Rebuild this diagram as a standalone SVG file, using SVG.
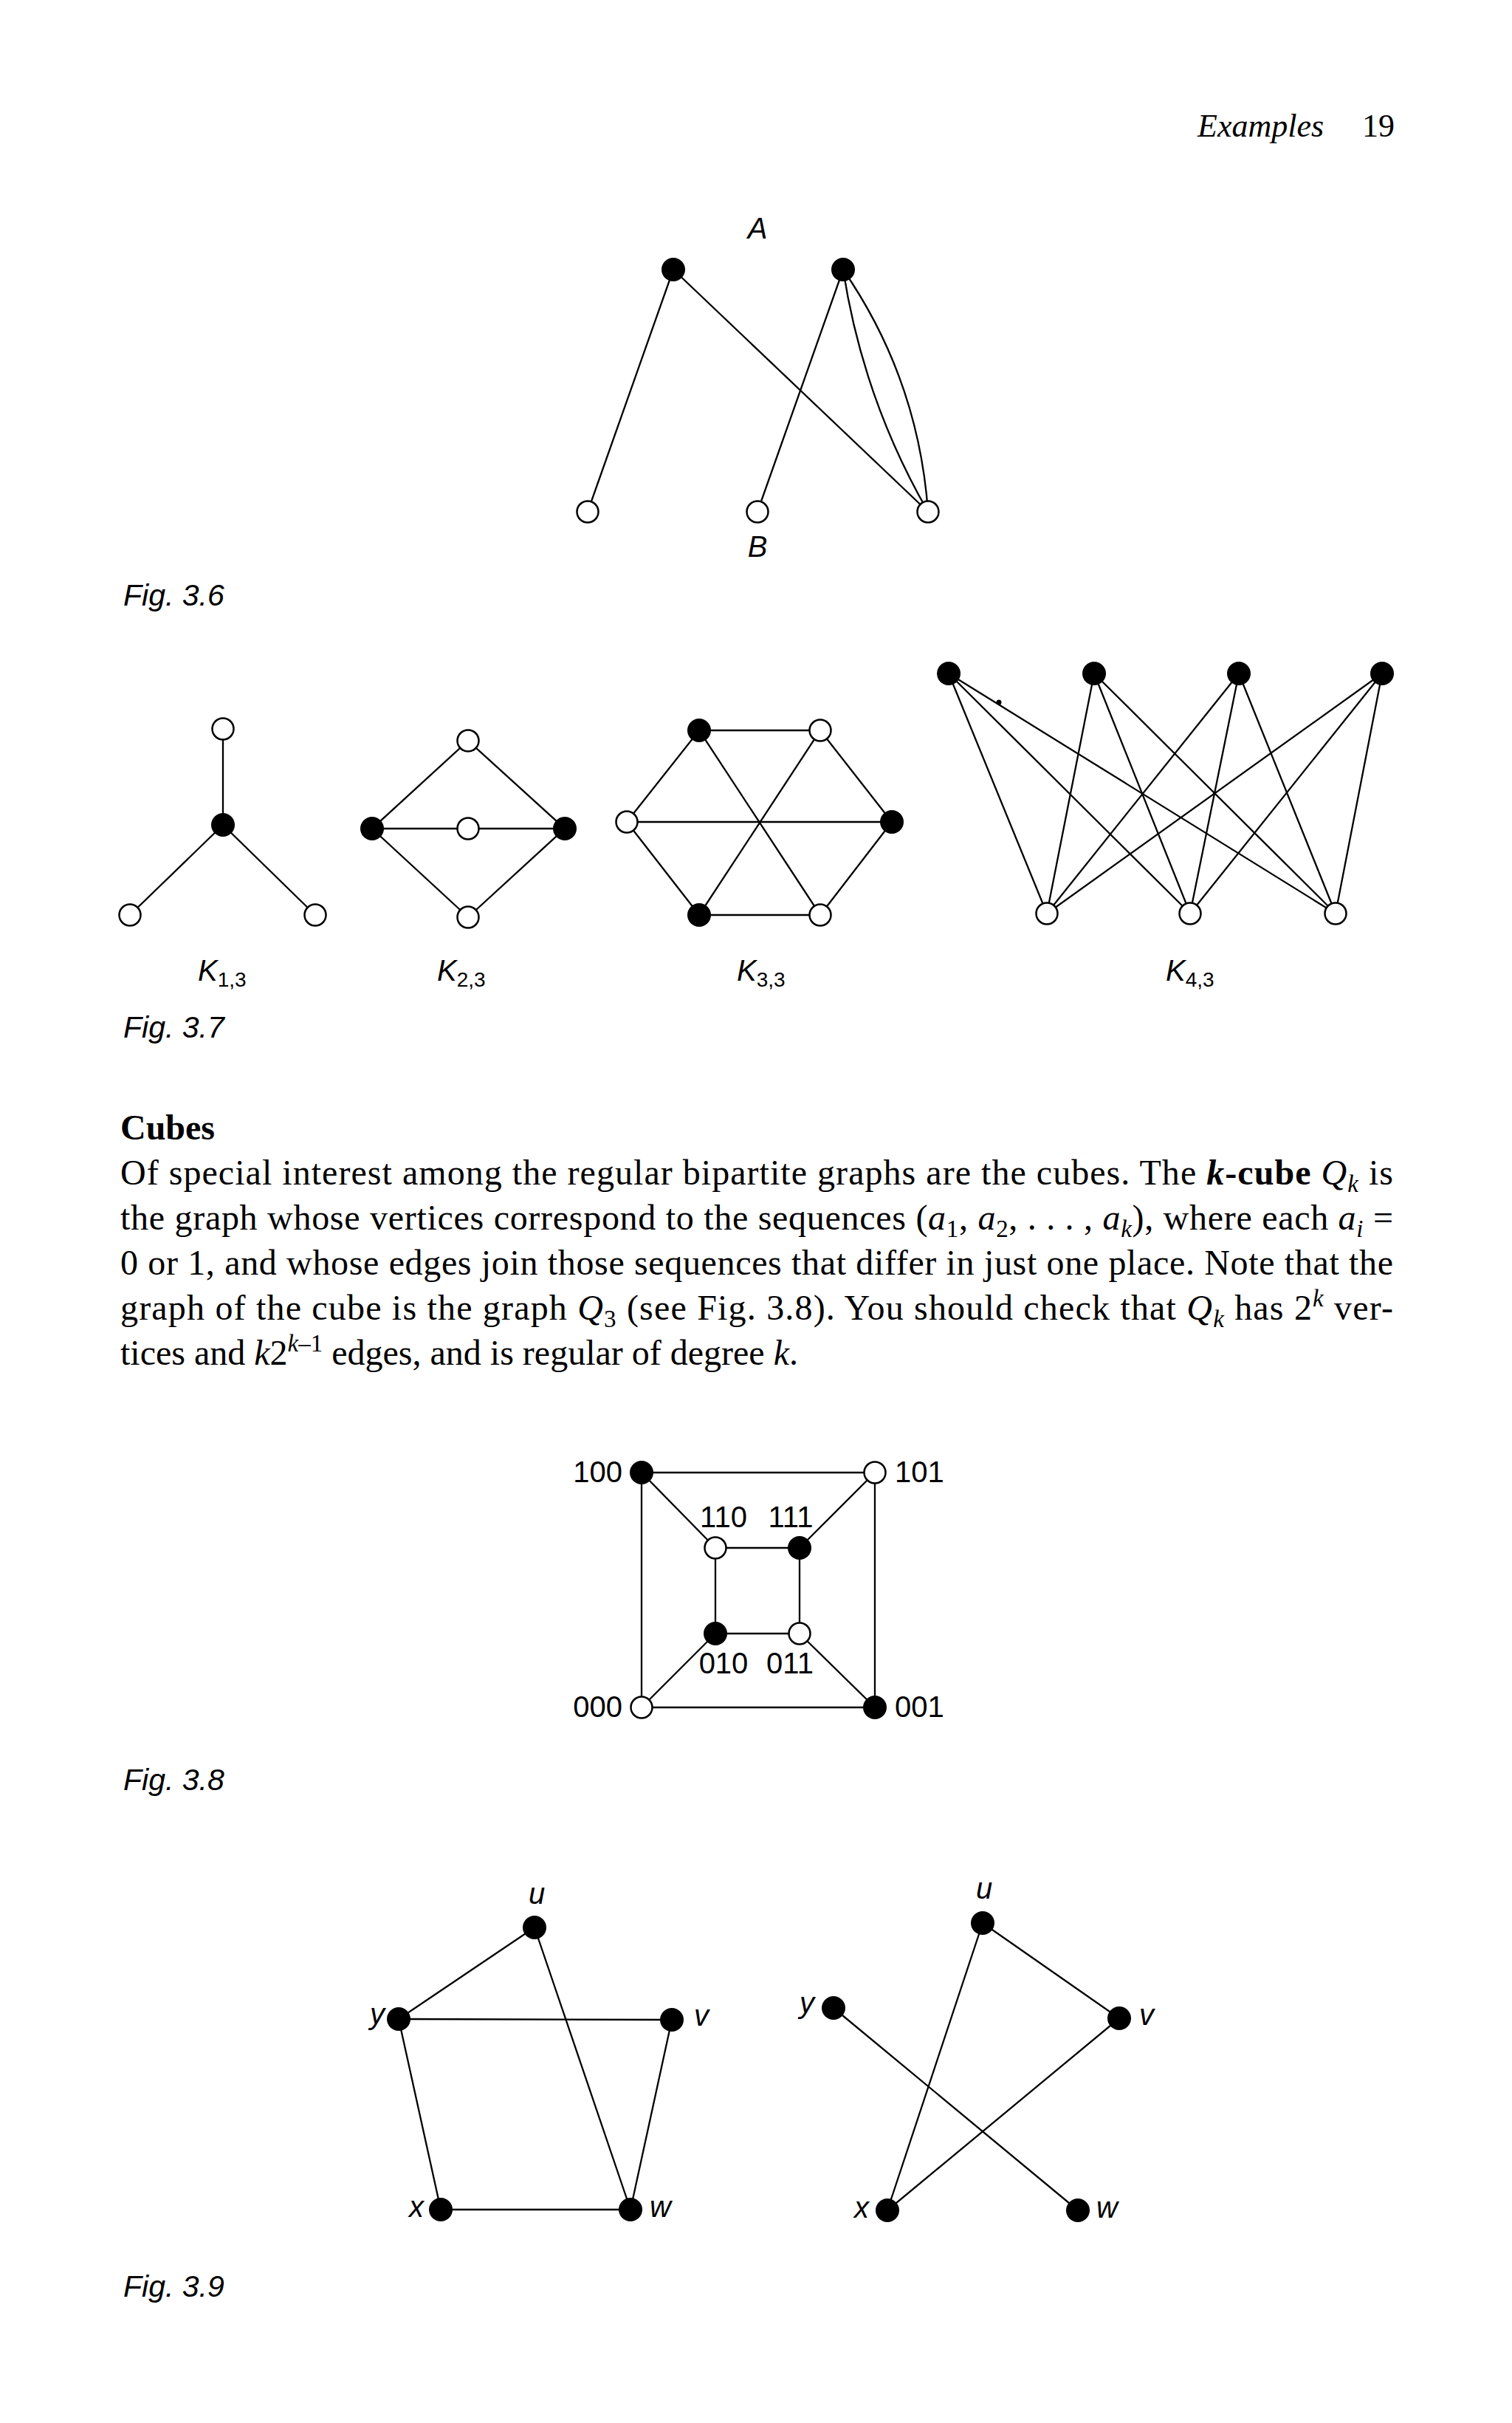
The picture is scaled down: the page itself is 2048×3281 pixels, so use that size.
<svg xmlns="http://www.w3.org/2000/svg" width="2048" height="3281" viewBox="0 0 2048 3281">
<style>
.e{stroke:#000;stroke-width:2.3;fill:none;stroke-linecap:round}
.b{fill:#000}
.w{fill:#fff;stroke:#000;stroke-width:2.5}
.cap{font-family:"Liberation Sans",Arial,sans-serif;font-style:italic;font-size:41px}
.lab{font-family:"Liberation Sans",Arial,sans-serif;font-size:40px}
.il{font-family:"Liberation Sans",Arial,sans-serif;font-style:italic;font-size:40px}
.kl{font-family:"Liberation Sans",Arial,sans-serif;font-size:40px}
.body{font-family:"Liberation Serif","Times New Roman",serif;font-size:48px}
.hd{font-family:"Liberation Serif","Times New Roman",serif;font-size:44px}
.i{font-style:italic}
.sm{font-size:33px}
</style>
<rect width="2048" height="3281" fill="#fff"/>

<!-- header -->
<text class="hd i" x="1622" y="185">Examples</text>
<text class="hd" x="1845" y="185">19</text>

<!-- connectors -->
<g id="connectors">
  <!-- Fig 3.6 -->
  <line class="e" x1="912" y1="365" x2="796" y2="693"/>
  <line class="e" x1="912" y1="365" x2="1257" y2="693"/>
  <line class="e" x1="1142" y1="365" x2="1026" y2="693"/>
  <path class="e" d="M1142,365 Q1169,540 1257,693"/>
  <path class="e" d="M1142,365 Q1244,513 1257,693"/>
  <!-- K1,3 -->
  <line class="e" x1="302" y1="1117" x2="302" y2="987"/>
  <line class="e" x1="302" y1="1117" x2="176" y2="1239"/>
  <line class="e" x1="302" y1="1117" x2="427" y2="1239"/>
  <!-- K2,3 -->
  <line class="e" x1="504" y1="1122" x2="634" y2="1003"/>
  <line class="e" x1="504" y1="1122" x2="634" y2="1122"/>
  <line class="e" x1="504" y1="1122" x2="634" y2="1242"/>
  <line class="e" x1="765" y1="1122" x2="634" y2="1003"/>
  <line class="e" x1="765" y1="1122" x2="634" y2="1122"/>
  <line class="e" x1="765" y1="1122" x2="634" y2="1242"/>
  <!-- K3,3 -->
  <line class="e" x1="947" y1="989" x2="1111" y2="989"/>
  <line class="e" x1="1111" y1="989" x2="1208" y2="1113"/>
  <line class="e" x1="1208" y1="1113" x2="1111" y2="1239"/>
  <line class="e" x1="1111" y1="1239" x2="947" y2="1239"/>
  <line class="e" x1="947" y1="1239" x2="849" y2="1113"/>
  <line class="e" x1="849" y1="1113" x2="947" y2="989"/>
  <line class="e" x1="947" y1="989" x2="1111" y2="1239"/>
  <line class="e" x1="1111" y1="989" x2="947" y2="1239"/>
  <line class="e" x1="849" y1="1113" x2="1208" y2="1113"/>
  <!-- K4,3 -->
  <line class="e" x1="1285" y1="912" x2="1418" y2="1237"/>
  <line class="e" x1="1285" y1="912" x2="1612" y2="1237"/>
  <line class="e" x1="1285" y1="912" x2="1809" y2="1237"/>
  <line class="e" x1="1482" y1="912" x2="1418" y2="1237"/>
  <line class="e" x1="1482" y1="912" x2="1612" y2="1237"/>
  <line class="e" x1="1482" y1="912" x2="1809" y2="1237"/>
  <line class="e" x1="1678" y1="912" x2="1418" y2="1237"/>
  <line class="e" x1="1678" y1="912" x2="1612" y2="1237"/>
  <line class="e" x1="1678" y1="912" x2="1809" y2="1237"/>
  <line class="e" x1="1872" y1="912" x2="1418" y2="1237"/>
  <line class="e" x1="1872" y1="912" x2="1612" y2="1237"/>
  <line class="e" x1="1872" y1="912" x2="1809" y2="1237"/>
  <circle cx="1353" cy="951" r="3.5" fill="#000"/>
  <!-- Fig 3.8 cube -->
  <line class="e" x1="869" y1="1994" x2="1185" y2="1994"/>
  <line class="e" x1="1185" y1="1994" x2="1185" y2="2312"/>
  <line class="e" x1="1185" y1="2312" x2="869" y2="2312"/>
  <line class="e" x1="869" y1="2312" x2="869" y2="1994"/>
  <line class="e" x1="969" y1="2096" x2="1083" y2="2096"/>
  <line class="e" x1="1083" y1="2096" x2="1083" y2="2212"/>
  <line class="e" x1="1083" y1="2212" x2="969" y2="2212"/>
  <line class="e" x1="969" y1="2212" x2="969" y2="2096"/>
  <line class="e" x1="869" y1="1994" x2="969" y2="2096"/>
  <line class="e" x1="1185" y1="1994" x2="1083" y2="2096"/>
  <line class="e" x1="1185" y1="2312" x2="1083" y2="2212"/>
  <line class="e" x1="869" y1="2312" x2="969" y2="2212"/>
  <!-- Fig 3.9 left -->
  <line class="e" x1="724" y1="2610" x2="540" y2="2734"/>
  <line class="e" x1="724" y1="2610" x2="854" y2="2992"/>
  <line class="e" x1="540" y1="2734" x2="910" y2="2735"/>
  <line class="e" x1="540" y1="2734" x2="597" y2="2992"/>
  <line class="e" x1="597" y1="2992" x2="854" y2="2992"/>
  <line class="e" x1="910" y1="2735" x2="854" y2="2992"/>
  <!-- Fig 3.9 right -->
  <line class="e" x1="1331" y1="2604" x2="1202" y2="2993"/>
  <line class="e" x1="1331" y1="2604" x2="1516" y2="2733"/>
  <line class="e" x1="1516" y1="2733" x2="1202" y2="2993"/>
  <line class="e" x1="1129" y1="2719" x2="1460" y2="2993"/>
</g>

<!-- Fig 3.6 nodes -->
<g id="f36-a1"><circle class="b" cx="912" cy="365" r="16"/></g>
<g id="f36-a2"><circle class="b" cx="1142" cy="365" r="16"/></g>
<g id="f36-b1"><circle class="w" cx="796" cy="693" r="14.5"/></g>
<g id="f36-b2"><circle class="w" cx="1026" cy="693" r="14.5"/></g>
<g id="f36-b3"><circle class="w" cx="1257" cy="693" r="14.5"/></g>
<text class="il" x="1026" y="323" text-anchor="middle">A</text>
<text class="il" x="1026" y="754" text-anchor="middle">B</text>
<text class="cap" x="167" y="820">Fig. 3.6</text>

<!-- Fig 3.7 K1,3 -->
<g id="k13-c"><circle class="b" cx="302" cy="1117" r="16"/></g>
<g id="k13-t"><circle class="w" cx="302" cy="987" r="14.5"/></g>
<g id="k13-l"><circle class="w" cx="176" cy="1239" r="14.5"/></g>
<g id="k13-r"><circle class="w" cx="427" cy="1239" r="14.5"/></g>
<!-- K2,3 -->
<g id="k23-l"><circle class="b" cx="504" cy="1122" r="16"/></g>
<g id="k23-r"><circle class="b" cx="765" cy="1122" r="16"/></g>
<g id="k23-t"><circle class="w" cx="634" cy="1003" r="14.5"/></g>
<g id="k23-m"><circle class="w" cx="634" cy="1122" r="14.5"/></g>
<g id="k23-b"><circle class="w" cx="634" cy="1242" r="14.5"/></g>
<!-- K3,3 -->
<g id="k33-tl"><circle class="b" cx="947" cy="989" r="16"/></g>
<g id="k33-tr"><circle class="w" cx="1111" cy="989" r="14.5"/></g>
<g id="k33-l"><circle class="w" cx="849" cy="1113" r="14.5"/></g>
<g id="k33-r"><circle class="b" cx="1208" cy="1113" r="16"/></g>
<g id="k33-bl"><circle class="b" cx="947" cy="1239" r="16"/></g>
<g id="k33-br"><circle class="w" cx="1111" cy="1239" r="14.5"/></g>
<!-- K4,3 -->
<g id="k43-b1"><circle class="b" cx="1285" cy="912" r="16"/></g>
<g id="k43-b2"><circle class="b" cx="1482" cy="912" r="16"/></g>
<g id="k43-b3"><circle class="b" cx="1678" cy="912" r="16"/></g>
<g id="k43-b4"><circle class="b" cx="1872" cy="912" r="16"/></g>
<g id="k43-w1"><circle class="w" cx="1418" cy="1237" r="14.5"/></g>
<g id="k43-w2"><circle class="w" cx="1612" cy="1237" r="14.5"/></g>
<g id="k43-w3"><circle class="w" cx="1809" cy="1237" r="14.5"/></g>

<text class="kl" x="268" y="1328"><tspan class="i">K</tspan><tspan font-size="28" dy="8">1,3</tspan></text>
<text class="kl" x="592" y="1328"><tspan class="i">K</tspan><tspan font-size="28" dy="8">2,3</tspan></text>
<text class="kl" x="998" y="1328"><tspan class="i">K</tspan><tspan font-size="28" dy="8">3,3</tspan></text>
<text class="kl" x="1579" y="1328"><tspan class="i">K</tspan><tspan font-size="28" dy="8">4,3</tspan></text>
<text class="cap" x="167" y="1405">Fig. 3.7</text>

<!-- Cubes text -->
<text class="body" x="163" y="1543" font-weight="bold">Cubes</text>
<text class="body" x="163" y="1604" textLength="1724" lengthAdjust="spacing">Of special interest among the regular bipartite graphs are the cubes. The <tspan font-weight="bold" font-style="italic">k</tspan><tspan font-weight="bold">-cube</tspan> <tspan class="i">Q</tspan><tspan class="i sm" dy="10">k</tspan><tspan dy="-10"> is</tspan></text>
<text class="body" x="163" y="1665" textLength="1724" lengthAdjust="spacing">the graph whose vertices correspond to the sequences (<tspan class="i">a</tspan><tspan class="sm" dy="10">1</tspan><tspan dy="-10">, </tspan><tspan class="i">a</tspan><tspan class="sm" dy="10">2</tspan><tspan dy="-10">, . . . , </tspan><tspan class="i">a</tspan><tspan class="i sm" dy="10">k</tspan><tspan dy="-10">), where each </tspan><tspan class="i">a</tspan><tspan class="i sm" dy="10">i</tspan><tspan dy="-10"> =</tspan></text>
<text class="body" x="163" y="1726" textLength="1724" lengthAdjust="spacing">0 or 1, and whose edges join those sequences that differ in just one place. Note that the</text>
<text class="body" x="163" y="1787" textLength="1724" lengthAdjust="spacing">graph of the cube is the graph <tspan class="i">Q</tspan><tspan class="sm" dy="10">3</tspan><tspan dy="-10"> (see Fig. 3.8). You should check that </tspan><tspan class="i">Q</tspan><tspan class="i sm" dy="10">k</tspan><tspan dy="-10"> has 2</tspan><tspan class="i sm" dy="-18">k</tspan><tspan dy="18"> ver-</tspan></text>
<text class="body" x="163" y="1848">tices and <tspan class="i">k</tspan>2<tspan class="sm" dy="-18"><tspan class="i">k</tspan>–1</tspan><tspan dy="18"> edges, and is regular of degree </tspan><tspan class="i">k</tspan>.</text>

<!-- Fig 3.8 -->
<g id="q100"><circle class="b" cx="869" cy="1994" r="16"/><text class="lab" x="843" y="2007" text-anchor="end">100</text></g>
<g id="q101"><circle class="w" cx="1185" cy="1994" r="14.5"/><text class="lab" x="1212" y="2007">101</text></g>
<g id="q110"><circle class="w" cx="969" cy="2096" r="14.5"/><text class="lab" x="980" y="2068" text-anchor="middle">110</text></g>
<g id="q111"><circle class="b" cx="1083" cy="2096" r="16"/><text class="lab" x="1071" y="2068" text-anchor="middle">111</text></g>
<g id="q010"><circle class="b" cx="969" cy="2212" r="16"/><text class="lab" x="980" y="2266" text-anchor="middle">010</text></g>
<g id="q011"><circle class="w" cx="1083" cy="2212" r="14.5"/><text class="lab" x="1070" y="2266" text-anchor="middle">011</text></g>
<g id="q000"><circle class="w" cx="869" cy="2312" r="14.5"/><text class="lab" x="843" y="2325" text-anchor="end">000</text></g>
<g id="q001"><circle class="b" cx="1185" cy="2312" r="16"/><text class="lab" x="1212" y="2325">001</text></g>
<text class="cap" x="167" y="2424">Fig. 3.8</text>

<!-- Fig 3.9 left -->
<g id="l-u"><circle class="b" cx="724" cy="2610" r="16"/><text class="il" x="727" y="2578" text-anchor="middle">u</text></g>
<g id="l-y"><circle class="b" cx="540" cy="2734" r="16"/><text class="il" x="521" y="2741" text-anchor="end">y</text></g>
<g id="l-v"><circle class="b" cx="910" cy="2735" r="16"/><text class="il" x="940" y="2743">v</text></g>
<g id="l-x"><circle class="b" cx="597" cy="2992" r="16"/><text class="il" x="574" y="3002" text-anchor="end">x</text></g>
<g id="l-w"><circle class="b" cx="854" cy="2992" r="16"/><text class="il" x="880" y="3002">w</text></g>
<!-- Fig 3.9 right -->
<g id="r-u"><circle class="b" cx="1331" cy="2604" r="16"/><text class="il" x="1333" y="2571" text-anchor="middle">u</text></g>
<g id="r-y"><circle class="b" cx="1129" cy="2719" r="16"/><text class="il" x="1103" y="2726" text-anchor="end">y</text></g>
<g id="r-v"><circle class="b" cx="1516" cy="2733" r="16"/><text class="il" x="1543" y="2742">v</text></g>
<g id="r-x"><circle class="b" cx="1202" cy="2993" r="16"/><text class="il" x="1177" y="3003" text-anchor="end">x</text></g>
<g id="r-w"><circle class="b" cx="1460" cy="2993" r="16"/><text class="il" x="1485" y="3003">w</text></g>
<text class="cap" x="167" y="3110">Fig. 3.9</text>
</svg>
